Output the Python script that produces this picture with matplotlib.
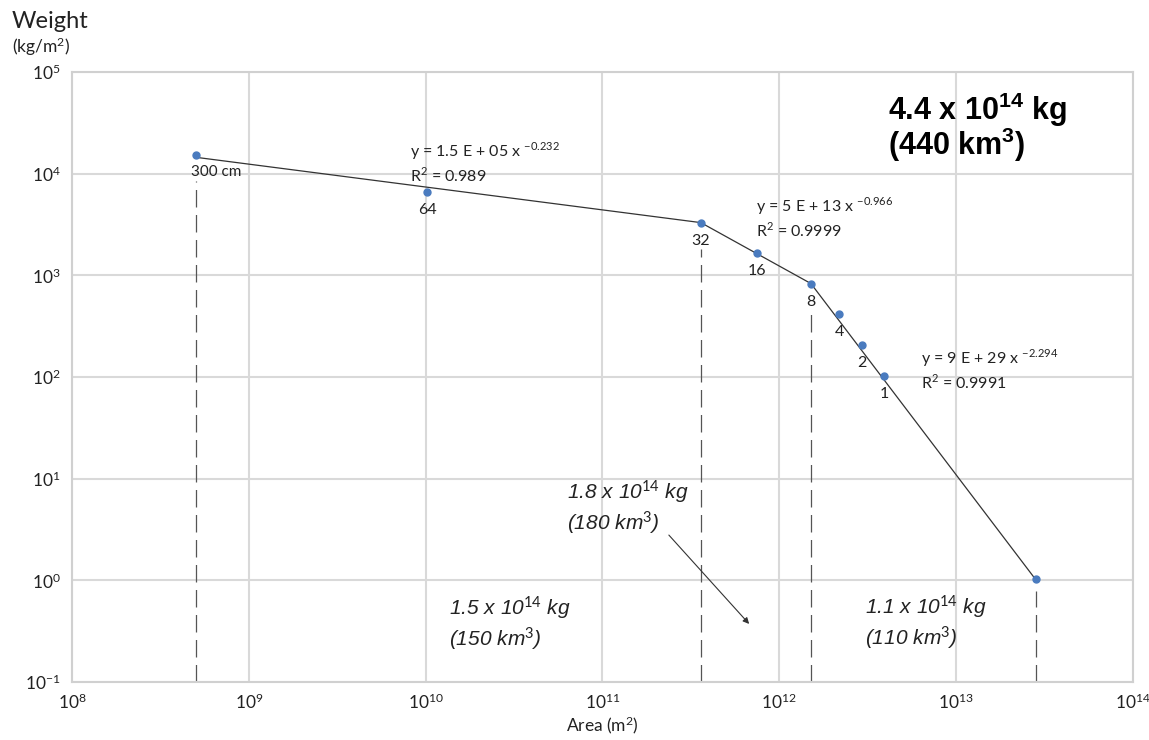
import numpy as np
import matplotlib.pyplot as plt
from matplotlib.ticker import FuncFormatter

plt.rcParams['font.family'] = ['Lato', 'DejaVu Sans']
plt.rcParams['mathtext.fontset'] = 'custom'
plt.rcParams['mathtext.rm'] = 'Lato'
plt.rcParams['mathtext.it'] = 'Liberation Sans:italic'
plt.rcParams['mathtext.bf'] = 'Liberation Sans:bold'

# measured points (area m2, weight kg/m2) and thickness labels
area = [5.0e8, 1.02e10, 3.6e11, 7.5e11, 1.51e12, 2.18e12, 2.94e12, 3.92e12, 2.84e13]
weight = [1.53e4, 6.6e3, 3.27e3, 1.66e3, 822, 417, 207, 102, 1.03]
labels = ['300 cm', '64', '32', '16', '8', '4', '2', '1', '']

# power-law fit segments (breakpoints)
fit_x = [5.0e8, 3.6e11, 1.51e12, 2.84e13]
fit_y = [1.45e4, 3.3e3, 830, 1.0]

# dashed boundaries between volume segments
bound_x = [5.0e8, 3.6e11, 1.51e12, 2.84e13]
bound_top = [8.5e3, 1.8e3, 440, 0.78]

x_exp = [8, 9, 10, 11, 12, 13, 14]
y_exp = [-1, 0, 1, 2, 3, 4, 5]

fig = plt.figure(figsize=(11.49, 7.40), dpi=100)
ax = fig.add_axes([0.0627, 0.0784, 0.9233, 0.8243])
ax.set_xscale('log')
ax.set_yscale('log')
ax.set_xlim(1e8, 1e14)
ax.set_ylim(1e-1, 1e5)

ax.set_xticks([10.0 ** e for e in x_exp])
ax.set_yticks([10.0 ** e for e in y_exp])
ax.minorticks_off()
fmt = FuncFormatter(lambda v, p: r'$\mathrm{10^{%d}}$' % round(np.log10(v)))
ax.xaxis.set_major_formatter(fmt)
ax.yaxis.set_major_formatter(fmt)
ax.tick_params(length=0, labelsize=12.5, pad=8, colors='#222222')
ax.grid(True, color='#d9d9d9', lw=1.5)
for s in ax.spines.values():
    s.set_color('#d0d0d0')
    s.set_linewidth(1.5)
ax.set_axisbelow(True)

ax.vlines(bound_x, 0.1, bound_top, colors='#555555', lw=0.9, linestyles=(0, (14, 6)))
ax.plot(fit_x, fit_y, color='#333333', lw=0.9, zorder=3)
ax.plot(area, weight, 'o', color='#4a7bbf', ms=5, zorder=4)

for x, y, t in zip(area, weight, labels):
    if not t:
        continue
    if t == '300 cm':
        ax.annotate(t, (x, y), xytext=(-3, -7), textcoords='offset points',
                    ha='left', va='top', fontsize=11, color='#222222')
    else:
        ax.annotate(t, (x, y), xytext=(0, -8), textcoords='offset points',
                    ha='center', va='top', fontsize=11.5, color='#222222')

eqs = [(410, 151, r'y = 1.5 E + 05 x $^{\mathrm{-0.232}}$', 'R$^{\mathrm{2}}$ = 0.989'),
       (756, 206, r'y = 5 E + 13 x $^{\mathrm{-0.966}}$', 'R$^{\mathrm{2}}$ = 0.9999'),
       (921, 358, r'y = 9 E + 29 x $^{\mathrm{-2.294}}$', 'R$^{\mathrm{2}}$ = 0.9991')]
W, H = 1149, 740
for px, py, l1, l2 in eqs:
    fig.text(px / W, 1 - py / H, l1, fontsize=11.5, va='center', color='#222222')
    fig.text(px / W, 1 - (py + 24) / H, l2, fontsize=11.5, va='center', color='#222222')

fig.text(888 / W, 1 - 110 / H, r'4.4 x 10$^{\mathbf{14}}$ kg', fontsize=22, weight='bold',
         family='Liberation Sans', va='center')
fig.text(888 / W, 1 - 145 / H, r'(440 km$^{\mathbf{3}}$)', fontsize=22, weight='bold',
         family='Liberation Sans', va='center')

vols = [(567, 492, '1.8', '180'), (449, 608, '1.5', '150'), (865, 607, '1.1', '110')]
for px, py, m, v in vols:
    fig.text(px / W, 1 - py / H, m + r' x 10$^{\mathit{14}}$ kg', fontsize=15, style='italic',
             family='Liberation Sans', va='center', color='#222222')
    fig.text(px / W, 1 - (py + 31) / H, '(' + v + r' km$^{\mathit{3}}$)', fontsize=15,
             style='italic', family='Liberation Sans', va='center', color='#222222')

ax.annotate('', xy=(751 / W, 1 - 626 / H), xytext=(667 / W, 1 - 533 / H),
            xycoords='figure fraction', textcoords='figure fraction',
            arrowprops=dict(arrowstyle='-|>', color='#333333', lw=0.8, mutation_scale=9))

fig.text(12 / W, 1 - 22 / H, 'Weight', fontsize=17, va='center', color='#222222')
fig.text(12 / W, 1 - 47 / H, r'(kg/m$^{\mathrm{2}}$)', fontsize=12.5, va='center', color='#222222')
fig.text(602 / W, 1 - 725 / H, r'Area (m$^{\mathrm{2}}$)', fontsize=12.5, ha='center',
         va='center', color='#222222')

fig.savefig('out.png', dpi=100)
